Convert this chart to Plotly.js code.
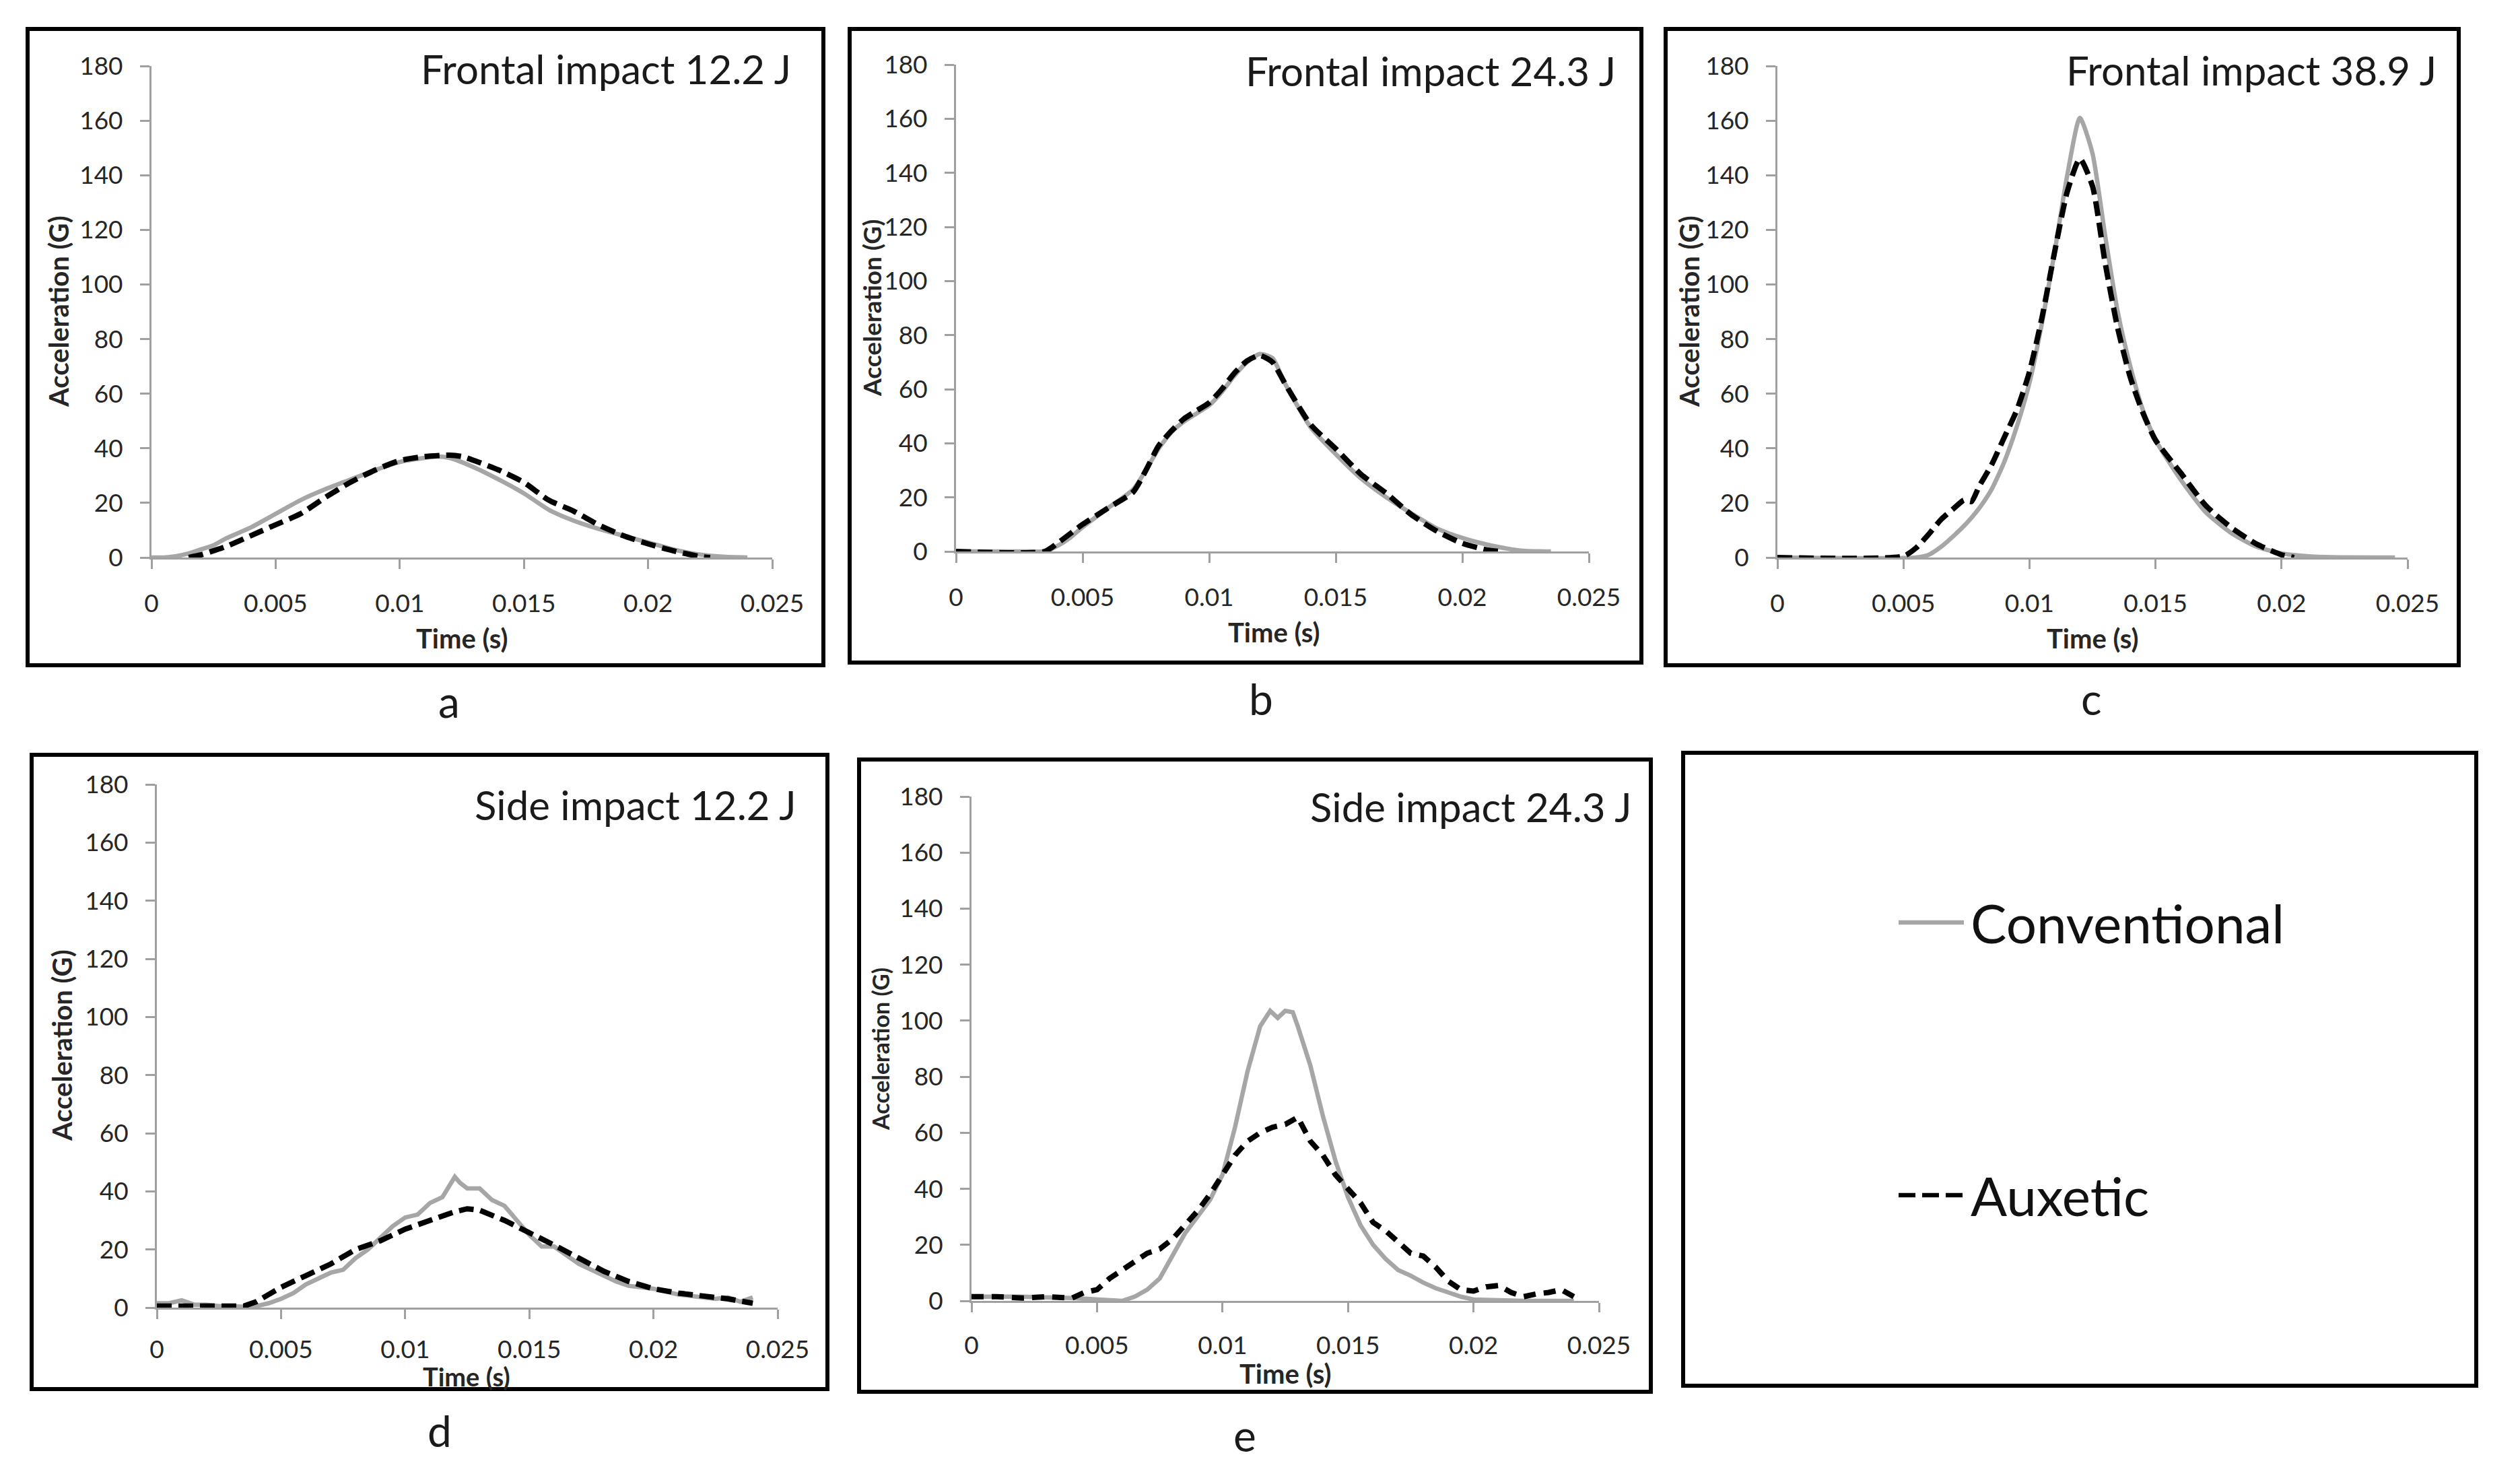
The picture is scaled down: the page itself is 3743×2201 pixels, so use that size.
<!DOCTYPE html>
<html>
<head>
<meta charset="utf-8">
<script src="https://cdn.plot.ly/plotly-3.0.1.min.js"></script>
<style>
  html, body { margin: 0; padding: 0; background: #ffffff; }
  #chart { width: 3743px; height: 2201px; }
</style>
</head>
<body>
<div id="chart"></div>
<script>
// ---- data: time (s) vs acceleration (G) ----
const xTickVals = [0, 0.005, 0.01, 0.015, 0.02, 0.025];
const xTickText = ['0', '0.005', '0.01', '0.015', '0.02', '0.025'];
const yTickVals = [0, 20, 40, 60, 80, 100, 120, 140, 160, 180];
const yTickText = ['0', '20', '40', '60', '80', '100', '120', '140', '160', '180'];

const panelTitles = ['Frontal impact 12.2 J', 'Frontal impact 24.3 J', 'Frontal impact 38.9 J',
                     'Side impact 12.2 J', 'Side impact 24.3 J'];
const panelLetters = ['a', 'b', 'c', 'd', 'e'];
const seriesNames = ['Conventional', 'Auxetic'];

// a - frontal 12.2 J
const tConvA = [0, 0.0005, 0.001, 0.0015, 0.002, 0.0025, 0.003, 0.004, 0.005, 0.006, 0.007, 0.008, 0.009, 0.010,
                0.011, 0.0115, 0.012, 0.013, 0.014, 0.015, 0.016, 0.017, 0.018, 0.019, 0.020, 0.021, 0.022, 0.023, 0.024];
const convA  = [0, 0, 0.5, 1.5, 3, 4.5, 7, 11, 16, 21, 25, 28.5, 32, 35,
                36.5, 37, 36.5, 33, 28.5, 23.5, 17.5, 13.5, 10.5, 8, 5.5, 3, 1.2, 0.3, 0];
const tAuxA  = [0.0015, 0.002, 0.0025, 0.003, 0.004, 0.005, 0.006, 0.007, 0.008, 0.009, 0.010, 0.011, 0.012,
                0.0125, 0.013, 0.014, 0.015, 0.016, 0.017, 0.018, 0.019, 0.020, 0.021, 0.022, 0.0225];
const auxA   = [0, 1, 2.5, 4, 8, 12, 16, 22, 27.5, 32, 35.5, 37, 37.5,
                37, 35.5, 32, 27.5, 21, 17, 12, 8, 5, 2.5, 0.5, 0];

// b - frontal 24.3 J
const tConvB = [0, 0.003, 0.0035, 0.004, 0.0045, 0.005, 0.006, 0.007, 0.0075, 0.008, 0.0085, 0.009, 0.0095, 0.010,
                0.0105, 0.011, 0.0115, 0.012, 0.0125, 0.013, 0.014, 0.015, 0.016, 0.017, 0.018, 0.019, 0.020, 0.021,
                0.022, 0.0225, 0.0235];
const convB  = [0, 0, 0, 2, 5, 9, 16, 23, 30, 38, 44, 48, 51, 54,
                59, 65, 70, 73, 71.5, 62, 46, 36, 27, 20, 14, 8.5, 5, 2.5,
                0.7, 0.2, 0];
const tAuxB  = [0, 0.0035, 0.004, 0.005, 0.006, 0.007, 0.0075, 0.008, 0.0085, 0.009, 0.0095, 0.010, 0.0105, 0.011,
                0.0115, 0.012, 0.0125, 0.013, 0.014, 0.015, 0.016, 0.017, 0.018, 0.019, 0.020, 0.021, 0.0215];
const auxB   = [0, 0, 3, 10, 16, 22, 30, 39, 44.5, 49, 52, 55, 60, 66,
                70.5, 72.5, 70, 62, 47, 38, 28.5, 21.5, 13.5, 7.5, 3, 0.5, 0];

// c - frontal 38.9 J
const tConvC = [0, 0.0055, 0.006, 0.0065, 0.007, 0.0075, 0.008, 0.0085, 0.009, 0.0095, 0.010, 0.0105, 0.011, 0.0115,
                0.012, 0.0125, 0.013, 0.0135, 0.014, 0.0145, 0.015, 0.016, 0.017, 0.018, 0.019, 0.020, 0.021, 0.022, 0.0245];
const convC  = [0, 0, 1, 4, 8, 12.5, 18, 25, 35, 48, 64, 86, 112, 140,
                161, 148, 118, 90, 70, 54, 43, 28.5, 16.5, 9, 4, 1.5, 0.5, 0.1, 0];
const tAuxC  = [0, 0.005, 0.0055, 0.006, 0.0065, 0.007, 0.0074, 0.0077, 0.008, 0.0085, 0.009, 0.0095, 0.010, 0.0105,
                0.011, 0.0115, 0.012, 0.0125, 0.013, 0.0135, 0.014, 0.0145, 0.015, 0.016, 0.017, 0.018, 0.019, 0.020, 0.0205];
const auxC   = [0, 0.5, 3.5, 8.5, 14, 18, 21, 20.5, 26, 34, 44, 54, 68, 88,
                112, 134, 146, 136, 108, 84, 66, 53, 43, 31, 19, 11, 5, 1, 0];

// d - side 12.2 J
const tConvD = [0, 0.0005, 0.001, 0.0015, 0.002, 0.0025, 0.003, 0.0035, 0.004, 0.0045, 0.005, 0.0055, 0.006, 0.0065,
                0.007, 0.0075, 0.008, 0.0085, 0.009, 0.0095, 0.010, 0.0105, 0.011, 0.0115, 0.012, 0.0122, 0.0125,
                0.013, 0.0135, 0.014, 0.0145, 0.015, 0.0155, 0.016, 0.0165, 0.017, 0.0175, 0.018, 0.0185, 0.019,
                0.0195, 0.020, 0.021, 0.022, 0.0225, 0.023, 0.0235, 0.024];
const convD  = [1.5, 1.5, 2.5, 1, 1, 0.5, 0.5, 0.3, 0.5, 1.5, 3, 5, 8, 10,
                12, 13, 17, 20, 24, 28, 31, 32, 36, 38, 45, 43, 41,
                41, 37, 35, 30, 25, 21, 21, 18, 15, 13, 11, 9, 7.5,
                7, 6.5, 4.5, 3.5, 3, 3.5, 2, 3.5];
const tAuxD  = [0, 0.001, 0.002, 0.003, 0.0035, 0.004, 0.0045, 0.005, 0.006, 0.007, 0.008, 0.009, 0.010, 0.011,
                0.012, 0.0125, 0.013, 0.014, 0.015, 0.016, 0.017, 0.018, 0.019, 0.020, 0.021, 0.022, 0.023, 0.024];
const auxD   = [0.5, 0.5, 0.5, 0.5, 0.5, 2, 4.5, 7, 11, 15, 20, 23, 27, 30,
                33, 34, 33.5, 30, 26, 21.5, 17, 12.5, 9, 6.5, 5, 4, 3, 1.5];

// e - side 24.3 J
const tConvE = [0, 0.002, 0.004, 0.005, 0.006, 0.0065, 0.007, 0.0075, 0.008, 0.0085, 0.009, 0.0095, 0.010, 0.0105,
                0.011, 0.0115, 0.0119, 0.0122, 0.0125, 0.0128, 0.013, 0.0135, 0.014, 0.0145, 0.015, 0.0155, 0.016,
                0.0165, 0.017, 0.0175, 0.018, 0.0185, 0.019, 0.0195, 0.020, 0.021, 0.022, 0.024];
const convE  = [1.5, 1.5, 1, 0.5, 0, 1.5, 4, 8, 16, 24, 30, 36, 45, 62,
                82, 98, 103.5, 101, 103.5, 103, 98, 84, 66, 50, 37, 27, 20,
                15, 11, 9, 6.5, 4.5, 3, 1.5, 0.5, 0.3, 0, 0];
const tAuxE  = [0, 0.001, 0.002, 0.003, 0.004, 0.0045, 0.005, 0.0055, 0.006, 0.0065, 0.007, 0.0075, 0.008, 0.0085,
                0.009, 0.0095, 0.010, 0.0105, 0.011, 0.0115, 0.012, 0.0125, 0.013, 0.0135, 0.014, 0.0145, 0.015,
                0.0155, 0.016, 0.0165, 0.017, 0.0175, 0.018, 0.0185, 0.019, 0.0195, 0.020, 0.0205, 0.021, 0.0215,
                0.022, 0.0225, 0.023, 0.0235, 0.024];
const auxE   = [1.5, 1.5, 1, 1.5, 1, 3, 4, 8, 11, 14, 17, 18.5, 22, 27,
                32, 38, 45, 52, 57, 60, 62, 63, 65.5, 57, 52, 45, 40,
                35, 28, 25, 21, 17, 16, 12, 7, 4, 3.5, 5, 5.5, 3,
                1.5, 2.5, 3, 4, 1.5];

// ---- page geometry (pixels of the 3743 x 2201 picture) ----
const W = 3743, H = 2201;
const px = v => v / W;
const py = v => 1 - v / H;

// plot areas [left, right, top, bottom]
const plotBoxes = [
    [225, 1147, 98, 828],
    [1420, 2360, 96, 819],
    [2640, 3576, 98, 828],
    [233, 1155, 1165, 1942],
    [1443, 2375, 1183, 1932]
];
// framed panels [left, right, top, bottom]
const frames = [
    [41, 1223, 43, 988],
    [1262, 2438, 43, 984],
    [2474, 3652, 43, 988],
    [47, 1229, 1121, 2063],
    [1276, 2452, 1128, 2067],
    [2500, 3678, 1118, 2058]
];
const titlePos = [[1177, 102], [2402, 105], [3621, 104], [1185, 1195], [2426, 1198]];
const yTitlePos = [[87, 463], [1294, 458], [2509, 463], [92, 1553], [1307, 1558]];
const yTitleSize = [40, 37, 40, 40, 34];
const xTitlePos = [[686, 948], [1892, 939], [3108, 948], [693, 2044], [1910, 2040]];
const xTickStandoff = [20, 20, 20, 14, 18];
const letterPos = [[667, 1041], [1873, 1037], [3106, 1037], [653, 2124], [1849, 2131]];

const FONT = 'Lato, "Open Sans", sans-serif';
const AXIS_GREY = '#a0a0a0';
const CONV_GREY = '#a6a6a6';

const convSeries = [[tConvA, convA], [tConvB, convB], [tConvC, convC], [tConvD, convD], [tConvE, convE]];
const auxSeries  = [[tAuxA, auxA], [tAuxB, auxB], [tAuxC, auxC], [tAuxD, auxD], [tAuxE, auxE]];

const traces = [];
const layout = {
    width: W,
    height: H,
    margin: { l: 0, r: 0, t: 0, b: 0, pad: 0 },
    paper_bgcolor: '#ffffff',
    plot_bgcolor: '#ffffff',
    showlegend: false,
    font: { family: FONT, color: '#1a1a1a' },
    shapes: [],
    annotations: []
};

function axisBase() {
    return {
        showgrid: false,
        zeroline: false,
        showline: true,
        linecolor: AXIS_GREY,
        linewidth: 3,
        ticks: 'outside',
        ticklen: 14,
        tickwidth: 3,
        tickcolor: AXIS_GREY,
        tickfont: { family: FONT, size: 37, color: '#262626' },
        fixedrange: true
    };
}

plotBoxes.forEach((b, i) => {
    const n = i === 0 ? '' : String(i + 1);
    const smooth = i < 3;

    traces.push({
        type: 'scatter', mode: 'lines', name: seriesNames[0],
        x: convSeries[i][0], y: convSeries[i][1],
        xaxis: 'x' + n, yaxis: 'y' + n,
        line: { color: CONV_GREY, width: 6.5, shape: smooth ? 'spline' : 'linear', smoothing: 0.6 },
        hoverinfo: 'skip'
    });
    traces.push({
        type: 'scatter', mode: 'lines', name: seriesNames[1],
        x: auxSeries[i][0], y: auxSeries[i][1],
        xaxis: 'x' + n, yaxis: 'y' + n,
        line: { color: '#000000', width: 8, dash: i === 4 ? '18px,12px' : '22px,10px',
                shape: smooth ? 'spline' : 'linear', smoothing: 0.6 },
        hoverinfo: 'skip'
    });

    layout['xaxis' + n] = Object.assign(axisBase(), {
        domain: [px(b[0]), px(b[1])],
        anchor: 'y' + n,
        range: [0, 0.025],
        tickmode: 'array', tickvals: xTickVals, ticktext: xTickText,
        ticklabelstandoff: xTickStandoff[i]
    });
    layout['yaxis' + n] = Object.assign(axisBase(), {
        domain: [py(b[3]), py(b[2])],
        anchor: 'x' + n,
        range: [0, 180],
        tickmode: 'array', tickvals: yTickVals, ticktext: yTickText,
        ticklabelstandoff: 18
    });

    layout.annotations.push({
        xref: 'paper', yref: 'paper', x: px(titlePos[i][0]), y: py(titlePos[i][1]),
        xanchor: 'right', yanchor: 'middle', showarrow: false,
        text: panelTitles[i], font: { family: FONT, size: 60, color: '#1a1a1a' }
    });
    layout.annotations.push({
        xref: 'paper', yref: 'paper', x: px(yTitlePos[i][0]), y: py(yTitlePos[i][1]),
        xanchor: 'center', yanchor: 'middle', showarrow: false, textangle: -90,
        text: '<b>Acceleration (G)</b>', font: { family: FONT, size: yTitleSize[i], color: '#262626' }
    });
    layout.annotations.push({
        xref: 'paper', yref: 'paper', x: px(xTitlePos[i][0]), y: py(xTitlePos[i][1]),
        xanchor: 'center', yanchor: 'middle', showarrow: false,
        text: '<b>Time (s)</b>', font: { family: FONT, size: i === 3 ? 38 : 40, color: '#262626' }
    });
    layout.annotations.push({
        xref: 'paper', yref: 'paper', x: px(letterPos[i][0]), y: py(letterPos[i][1]),
        xanchor: 'center', yanchor: 'middle', showarrow: false,
        text: panelLetters[i], font: { family: FONT, size: 64, color: '#1a1a1a' }
    });
});

// panel frames
frames.forEach(f => {
    layout.shapes.push({
        type: 'rect', xref: 'paper', yref: 'paper',
        x0: px(f[0]), x1: px(f[1]), y0: py(f[3]), y1: py(f[2]),
        line: { color: '#000000', width: 6 }, fillcolor: 'rgba(0,0,0,0)'
    });
});

// legend panel (sixth frame)
const legendRows = [
    { name: seriesNames[0], y: 1370, color: CONV_GREY, dash: 'solid', width: 6.5 },
    { name: seriesNames[1], y: 1775, color: '#000000', dash: '25px,10px', width: 6.5 }
];
legendRows.forEach(r => {
    layout.shapes.push({
        type: 'line', xref: 'paper', yref: 'paper',
        x0: px(2820), x1: px(2917), y0: py(r.y), y1: py(r.y),
        line: { color: r.color, width: r.width, dash: r.dash }
    });
    layout.annotations.push({
        xref: 'paper', yref: 'paper', x: px(2925), y: py(r.y),
        xanchor: 'left', yanchor: 'middle', showarrow: false,
        text: r.name, font: { family: FONT, size: 80, color: '#111111' }
    });
});

Plotly.newPlot('chart', traces, layout, { staticPlot: true, displayModeBar: false });
</script>
</body>
</html>
